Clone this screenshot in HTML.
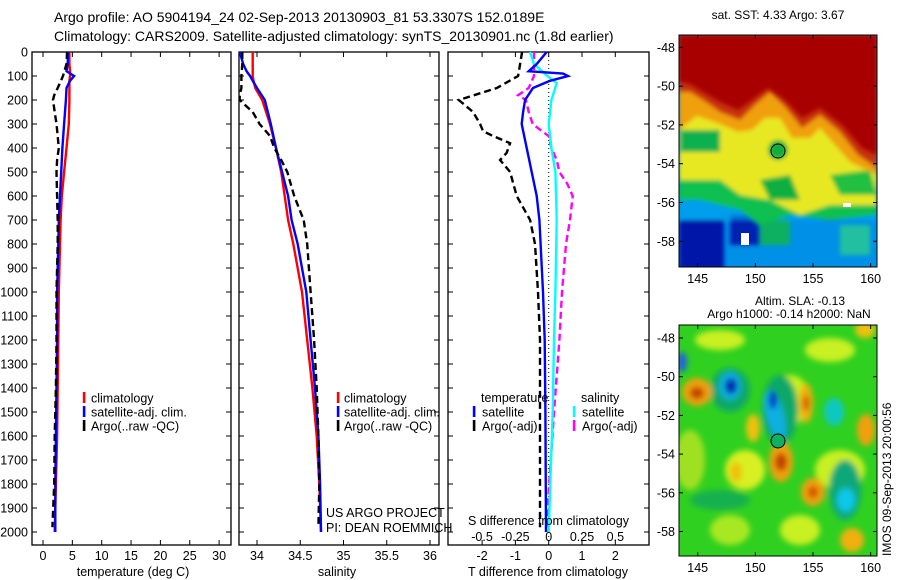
<!DOCTYPE html>
<html><head><meta charset="utf-8"><style>
html,body{margin:0;padding:0;background:#fff;}
svg{display:block;font-family:"Liberation Sans",sans-serif;}
</style></head><body>
<svg id="fig" width="900" height="580" viewBox="0 0 900 580">
<defs>
<filter id="bl" x="-20%" y="-20%" width="140%" height="140%"><feGaussianBlur stdDeviation="3"/></filter>
<filter id="bl2" x="-20%" y="-20%" width="140%" height="140%"><feGaussianBlur stdDeviation="2"/></filter>
<clipPath id="cm1"><rect x="679" y="35" width="198" height="232"/></clipPath>
<clipPath id="cm2"><rect x="679" y="325" width="198" height="231"/></clipPath>
</defs>
<text x="54" y="22" font-size="14">Argo profile: AO 5904194_24 02-Sep-2013 20130903_81 53.3307S 152.0189E</text>
<text x="54" y="41" font-size="14">Climatology: CARS2009. Satellite-adjusted climatology: synTS_20130901.nc (1.8d earlier)</text>

<!-- SST map -->
<g clip-path="url(#cm1)">
<rect x="679" y="35" width="198" height="232" fill="#0090e8"/>
<g filter="url(#bl2)">
<rect x="679" y="220" width="45" height="50" fill="#0018a8"/>
<rect x="730" y="215" width="30" height="30" fill="#0020b0"/>
<rect x="679" y="200" width="198" height="20" fill="#00a8f0" opacity="0.6"/>
<rect x="840" y="225" width="30" height="30" fill="#20c0a0"/>
<rect x="760" y="220" width="30" height="25" fill="#10b060"/>
<path d="M679,175 L720,175 L740,185 L770,180 L800,195 L830,205 L877,200 L877,215 L830,220 L790,215 L760,225 L740,210 L700,200 L679,200Z" fill="#10c050"/>
<path d="M679,35 L877,35 L877,205 L830,205 L800,215 L770,200 L740,195 L720,180 L679,180Z" fill="#e8e820"/>
<path d="M760,180 L790,175 L800,200 L770,200Z" fill="#10b040"/>
<path d="M830,175 L870,170 L877,195 L840,195Z" fill="#20c040"/>
<rect x="680" y="130" width="40" height="22" fill="#10b050"/>
<circle cx="778" cy="150" r="10" fill="#10b040"/>
<path d="M679,35 L877,35 L877,175 L850,162 L835,145 L820,128 L810,138 L792,138 L780,118 L765,118 L752,130 L738,132 L720,124 L697,116 L679,130Z" fill="#f0a010"/>
<path d="M679,35 L877,35 L877,168 L858,155 L840,132 L820,115 L802,128 L786,108 L770,92 L755,105 L740,120 L720,112 L703,100 L690,92 L679,92Z" fill="#c83008"/>
</g>
<path d="M679,35 L877,35 L877,155 L862,148 L842,125 L820,108 L802,118 L785,100 L768,88 L752,100 L738,110 L720,102 L703,92 L690,84 L679,82Z" fill="#a80000" filter="url(#bl2)"/>
<rect x="741" y="233" width="8" height="12" fill="#fff"/>
<rect x="843" y="203" width="8" height="4" fill="#fff"/>
<circle cx="778" cy="151" r="7" fill="none" stroke="#000" stroke-width="1"/>
</g>
<rect x="679" y="35" width="198" height="232" fill="none" stroke="#000" stroke-width="1"/>
<text x="778" y="19" font-size="12" text-anchor="middle">sat. SST: 4.33 Argo: 3.67</text>

<!-- SLA map -->
<g clip-path="url(#cm2)">
<rect x="679" y="325" width="198" height="231" fill="#30d020"/>
<g filter="url(#bl)">
<ellipse cx="720" cy="340" rx="25" ry="10" fill="#c8f020"/>
<ellipse cx="830" cy="350" rx="25" ry="12" fill="#c8f020"/>
<ellipse cx="790" cy="400" rx="20" ry="25" fill="#c8f020"/>
<ellipse cx="745" cy="470" rx="20" ry="20" fill="#d8f020"/>
<ellipse cx="690" cy="460" rx="15" ry="30" fill="#a0e020"/>
<ellipse cx="840" cy="470" rx="25" ry="20" fill="#c8f020"/>
<ellipse cx="800" cy="530" rx="20" ry="15" fill="#c8f020"/>
<ellipse cx="730" cy="530" rx="20" ry="15" fill="#a8e820"/>
<ellipse cx="730" cy="390" rx="20" ry="22" fill="#10a868"/>
<ellipse cx="780" cy="410" rx="18" ry="35" fill="#10a868"/>
<ellipse cx="845" cy="490" rx="16" ry="30" fill="#10a878"/>
<ellipse cx="720" cy="500" rx="30" ry="10" fill="#18b050"/>
<ellipse cx="697" cy="392" rx="15" ry="14" fill="#f0a010"/>
<ellipse cx="697" cy="393" rx="7" ry="6" fill="#c04000"/>
<ellipse cx="682" cy="362" rx="5" ry="10" fill="#2060e0"/>
<ellipse cx="730" cy="386" rx="11" ry="14" fill="#10b0e0"/>
<ellipse cx="731" cy="386" rx="6" ry="8" fill="#0020b0"/>
<ellipse cx="775" cy="415" rx="9" ry="25" fill="#10b0e0" transform="rotate(-15 775 415)"/>
<ellipse cx="773" cy="400" rx="4" ry="9" fill="#0030c8"/>
<ellipse cx="806" cy="403" rx="7" ry="20" fill="#f0b010"/>
<ellipse cx="806" cy="403" rx="3" ry="8" fill="#d05000"/>
<ellipse cx="834" cy="412" rx="10" ry="14" fill="#10c8c0"/>
<ellipse cx="866" cy="430" rx="9" ry="16" fill="#f0a010"/>
<ellipse cx="753" cy="428" rx="7" ry="14" fill="#f0c010"/>
<ellipse cx="781" cy="462" rx="12" ry="20" fill="#f0a010"/>
<ellipse cx="781" cy="462" rx="6" ry="9" fill="#c04000"/>
<ellipse cx="813" cy="492" rx="12" ry="14" fill="#f0a010"/>
<ellipse cx="813" cy="492" rx="5" ry="6" fill="#d05000"/>
<ellipse cx="846" cy="500" rx="9" ry="12" fill="#10c8e8"/>
<ellipse cx="852" cy="540" rx="12" ry="12" fill="#f0b010"/>
<ellipse cx="736" cy="472" rx="6" ry="10" fill="#f0c010"/>
<ellipse cx="865" cy="330" rx="10" ry="8" fill="#f0c010"/>
</g>
<circle cx="778" cy="441" r="7" fill="#10b060" stroke="#000" stroke-width="1"/>
</g>
<rect x="679" y="325" width="198" height="231" fill="none" stroke="#000" stroke-width="1"/>
<text x="800" y="305" font-size="12" text-anchor="middle">Altim. SLA: -0.13</text>
<text x="789" y="318" font-size="12" text-anchor="middle">Argo h1000: -0.14 h2000: NaN</text>
<text transform="translate(891,556) rotate(-90)" font-size="12">IMOS 09-Sep-2013 20:00:56</text>
<g id="mapaxes"></g>
<g id="plots"></g>
</svg>
<script>
// ---- data ----
const depthClim = [0,50,80,100,120,150,200,300,400,500,600,700,800,1000,1200,1400,1600,1800,2000];
const tempClim = [4.5,4.5,4.6,4.6,4.5,4.5,4.5,4.4,4.0,3.6,3.2,3.0,2.9,2.7,2.6,2.5,2.4,2.2,2.0];
const tempAdj = [4.3,4.2,4.0,5.3,4.6,4.0,3.9,3.6,3.3,3.1,2.9,2.7,2.6,2.4,2.4,2.3,2.2,2.1,2.1];
const salClim = [33.95,33.95,33.95,33.95,33.96,33.98,34.06,34.15,34.22,34.28,34.32,34.36,34.42,34.52,34.58,34.64,34.69,34.72,34.74];
const salAdj = [33.80,33.84,33.88,33.92,33.95,34.0,34.09,34.16,34.22,34.29,34.36,34.40,34.47,34.57,34.62,34.67,34.71,34.73,34.74];
const depthArgo = [0,50,100,150,180,200,250,300,350,400,450,500,600,700,800,1000,1200,1400,1600,1800,1980];
const tempArgo = [4.1,4.0,3.4,2.5,1.9,1.7,2.0,2.3,2.5,2.7,2.4,2.3,2.4,2.5,2.5,2.3,2.3,2.2,2.0,1.9,1.6];
const salArgo = [33.83,33.83,33.82,33.82,33.80,33.80,33.95,34.03,34.15,34.20,34.28,34.35,34.43,34.54,34.58,34.62,34.66,34.69,34.71,34.72,34.71];
const depthTdSat = [0,50,80,90,100,120,150,200,250,300,400,500,600,700,1000,1200,1500,2000];
const tdiffSat = [-0.06,-0.36,-0.6,0.43,0.58,0.04,-0.47,-0.71,-0.77,-0.81,-0.66,-0.51,-0.36,-0.28,-0.17,-0.12,-0.1,-0.08];
const depthTdArgo = [0,100,150,200,250,300,330,350,380,420,450,500,600,700,800,1000,1200,1500,1980];
const tdiffArgo = [-0.8,-0.92,-1.56,-2.7,-2.27,-2.06,-1.97,-1.67,-1.16,-1.26,-1.46,-1.16,-0.96,-0.56,-0.41,-0.32,-0.26,-0.26,-0.26];
const depthSdSat = [0,50,100,130,200,300,400,500,700,1000,1200,1500,2000];
const sdiffSat = [-0.14,-0.11,-0.01,0.06,0.02,0.0,0.02,0.05,0.06,0.05,0.04,0.03,0.0];
const depthSdArgo = [0,100,150,180,200,250,300,330,350,400,450,500,550,600,700,800,1000,1200,1500,2000];
const sdiffArgo = [-0.11,-0.11,-0.15,-0.23,-0.17,-0.15,-0.12,-0.05,0.0,0.02,0.06,0.08,0.14,0.18,0.16,0.13,0.1,0.08,0.04,-0.02];
const depthTicks = [0,100,200,300,400,500,600,700,800,900,1000,1100,1200,1300,1400,1500,1600,1700,1800,1900,2000];
const tempTicks = [0,5,10,15,20,25,30];
const salTicks = ["34","34.5","35","35.5","36"];
const tdTicks = ["-2","-1","0","1","2"];
const sdTicks = ["-0.5","-0.25","0","0.25","0.5"];
const latTicks = [-48,-50,-52,-54,-56,-58];
const lonTicks = [145,150,155,160];

const NS="http://www.w3.org/2000/svg";
const plots=document.getElementById('plots');
function el(tag,attrs,parent,txt){const e=document.createElementNS(NS,tag);for(const k in attrs)e.setAttribute(k,attrs[k]);if(txt!==undefined)e.textContent=txt;(parent||plots).appendChild(e);return e;}
const yD = d => 52 + d*0.24;
const xT = v => 43 + v*5.87;
const xS = v => 257 + (v-34)*86.5;
const xTd = v => 548.7 + v*33.3;
const xSd = v => 548.7 + v*133.3;
const TOP=52, BOT=545;

function panel(x0,x1,name){
  const r=el('rect',{x:x0,y:TOP,width:x1-x0,height:BOT-TOP,fill:'none',stroke:'#000','stroke-width':1.3});
  
  
  depthTicks.forEach(d=>{
    el('line',{x1:x0,x2:x0+5,y1:yD(d),y2:yD(d),stroke:'#000'});
    el('line',{x1:x1-5,x2:x1,y1:yD(d),y2:yD(d),stroke:'#000'});
  });
}
function series(xs,ds,fx,color,dash,name){
  const pts=xs.map((v,i)=>fx(v).toFixed(1)+','+yD(ds[i]).toFixed(1)).join(' ');
  const p=el('polyline',{points:pts,fill:'none',stroke:color,'stroke-width':2.4});
  if(dash)p.setAttribute('stroke-dasharray',dash);
  
  
}
function txt(x,y,s,anchor,size,name){
  const t=el('text',{x:x,y:y,'font-size':size||12.5,'text-anchor':anchor||'start'},plots,s);
  
  
}
function legBar(x,y,color){el('rect',{x:x-1.2,y:y-6,width:2.6,height:11,fill:color});}

// Panel 1 temperature
panel(32,231,'temperature-panel');
depthTicks.forEach(d=>txt(28,yD(d)+4.5,String(d),'end',12.5,'depth-tick-label'));
tempTicks.forEach(v=>{el('line',{x1:xT(v),x2:xT(v),y1:TOP,y2:TOP+5,stroke:'#000'});el('line',{x1:xT(v),x2:xT(v),y1:BOT-5,y2:BOT,stroke:'#000'});txt(xT(v),560,String(v),'middle',12.5,'temperature-tick-label');});
series(tempClim,depthClim,xT,'#f00',null,'temperature-climatology-line');
series(tempAdj,depthClim,xT,'#00f',null,'temperature-satellite-adj-line');
series(tempArgo,depthArgo,xT,'#000','7,4','temperature-argo-line');
txt(133,576,'temperature (deg C)','middle',12.5,'temperature-x-axis-title');
legBar(84,398,'#f00');txt(91,402.5,'climatology','start',12.5,'legend-climatology');
legBar(84,412,'#00f');txt(91,416.5,'satellite-adj. clim.','start',12.5,'legend-satellite-adj');
legBar(84,426,'#000');txt(91,430.5,'Argo(..raw -QC)','start',12.5,'legend-argo');

// Panel 2 salinity
panel(239,439,'salinity-panel');
salTicks.forEach(s=>{const v=parseFloat(s);el('line',{x1:xS(v),x2:xS(v),y1:TOP,y2:TOP+5,stroke:'#000'});el('line',{x1:xS(v),x2:xS(v),y1:BOT-5,y2:BOT,stroke:'#000'});txt(xS(v),560,s,'middle',12.5,'salinity-tick-label');});
series(salClim,depthClim,xS,'#f00',null,'salinity-climatology-line');
series(salAdj,depthClim,xS,'#00f',null,'salinity-satellite-adj-line');
series(salArgo,depthArgo,xS,'#000','7,4','salinity-argo-line');
txt(337,576,'salinity','middle',12.5,'salinity-x-axis-title');
legBar(338,398,'#f00');txt(344,402.5,'climatology','start',12.5,'legend-climatology-2');
legBar(338,412,'#00f');txt(344,416.5,'satellite-adj. clim.','start',12.5,'legend-satellite-adj-2');
legBar(338,426,'#000');txt(344,430.5,'Argo(..raw -QC)','start',12.5,'legend-argo-2');
txt(326,517,'US ARGO PROJECT','start',12.5,'project-label');
txt(326,532,'PI: DEAN ROEMMICH','start',12.5,'pi-label');

// Panel 3 differences
panel(448,649,'difference-panel');
el('line',{x1:xTd(0),x2:xTd(0),y1:TOP,y2:BOT,stroke:'#000','stroke-width':1,'stroke-dasharray':'1,3'});
tdTicks.forEach(s=>{const v=parseFloat(s);el('line',{x1:xTd(v),x2:xTd(v),y1:TOP,y2:TOP+5,stroke:'#000'});el('line',{x1:xTd(v),x2:xTd(v),y1:BOT-5,y2:BOT,stroke:'#000'});txt(xTd(v),560,s,'middle',12.5,'tdiff-tick-label');});
sdTicks.forEach(s=>{const v=parseFloat(s);txt(xSd(v),541,s,'middle',12.5,'sdiff-tick-label');});
series(sdiffArgo,depthSdArgo,xSd,'#f0f','7,4','sdiff-argo-line');
series(sdiffSat,depthSdSat,xSd,'#0ff',null,'sdiff-satellite-line');
series(tdiffArgo,depthTdArgo,xTd,'#000','7,4','tdiff-argo-line');
series(tdiffSat,depthTdSat,xTd,'#00f',null,'tdiff-satellite-line');
txt(481,402,'temperature','start',12.5,'legend-temperature-header');
txt(581,402,'salinity','start',12.5,'legend-salinity-header');
legBar(474,412,'#00f');txt(482,416.5,'satellite','start',12.5,'legend-t-satellite');
legBar(474,426,'#000');txt(482,430.5,'Argo(-adj)','start',12.5,'legend-t-argo');
legBar(574,412,'#0ff');txt(582,416.5,'satellite','start',12.5,'legend-s-satellite');
legBar(574,426,'#f0f');txt(582,430.5,'Argo(-adj)','start',12.5,'legend-s-argo');
txt(468,525,'S difference from climatology','start',12.5,'sdiff-axis-title');
txt(548,576,'T difference from climatology','middle',12.5,'tdiff-axis-title');

// Map axes
const ma=document.getElementById('mapaxes');
const lonX = v => 697.7 + (v-145)*11.53;
const lat1 = v => 47.3 + (-48-v)*19.4;
const lat2 = v => 338 + (-48-v)*19.35;
[[35,267,lat1],[325,556,lat2]].forEach(([t,b,fy],mi)=>{
  lonTicks.forEach(v=>{
    el('line',{x1:lonX(v),x2:lonX(v),y1:t,y2:t+4,stroke:'#000'},ma);
    el('line',{x1:lonX(v),x2:lonX(v),y1:b-4,y2:b,stroke:'#000'},ma);
    const tl=el('text',{x:lonX(v),y:b+16,'font-size':12.5,'text-anchor':'middle'},ma,String(v));
    
    
  });
  latTicks.forEach(v=>{
    el('line',{x1:679,x2:683,y1:fy(v),y2:fy(v),stroke:'#000'},ma);
    el('line',{x1:873,x2:877,y1:fy(v),y2:fy(v),stroke:'#000'},ma);
    const tl=el('text',{x:675,y:fy(v)+4.5,'font-size':12.5,'text-anchor':'end'},ma,String(v));
    
    
  });
});
</script>
</body></html>
